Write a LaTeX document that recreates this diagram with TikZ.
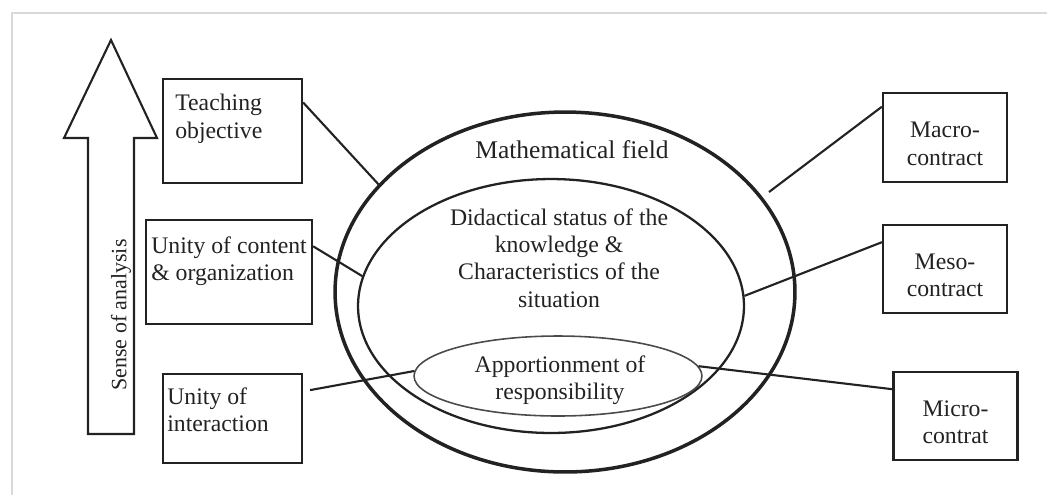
\documentclass[tikz,border=0pt]{standalone}
\usepackage{fontspec}
\setmainfont{Liberation Serif}
\usepackage{tikz}
\usetikzlibrary{shapes,positioning}
\definecolor{frame-gray}{HTML}{D9D9D9}
\definecolor{inner-gray}{HTML}{4A4A4A}
\definecolor{ink}{HTML}{222222}

\tikzset{
  lbox/.style={draw=ink, line width=1.3pt, inner sep=0pt},
  rbox/.style={draw=ink, line width=1.3pt, inner sep=0pt, align=center, text height=31.5pt, minimum width=2.48cm, minimum height=1.77cm},
  boxtext/.style={inner sep=0pt, align=left, anchor=north west},
  oval/.style={ellipse, draw=ink, inner sep=0pt},
  link/.style={draw=ink, line width=1.2pt},
}

\begin{document}
\begin{tikzpicture}[x=0.02cm, y=-0.02cm, font=\fontsize{13.5}{15.5}\selectfont, text=ink]
\useasboundingbox (0,0) rectangle (1047,495);
\draw [frame-gray, line width=1.2pt] (12,495) -- (12,13) -- (1047,13);

% sense of analysis
\draw [ink, line width=1.2pt] (88,434) -- (88,138) -- (64,138) -- (111,40) -- (157,138) -- (134,138) -- (134,434) -- cycle;
\node [rotate=90, font=\fontsize{12.5}{15}\selectfont] (sense) at (121,315) {Sense of analysis};

% ellipses
\node [oval, line width=2pt, minimum width=9.2cm, minimum height=7.2cm] (outer) at (565,292) {};
\node [oval, line width=1.3pt, minimum width=7.72cm, minimum height=5.08cm] (mid) at (551,306) {};
\node [oval, draw=inner-gray, line width=0.9pt, minimum width=5.76cm, minimum height=1.6cm] (inner) at (558,376) {};
\node [font=\fontsize{14.5}{16}\selectfont] (field) at (572,150) {Mathematical field};
\node [align=center] (status) at (559,258) {Didactical status of the\\knowledge \&\\Characteristics of the\\situation};
\node [align=center] (share) at (560,380) {Apportionment of\\responsibility};

% left boxes
\node [lbox, minimum width=2.78cm, minimum height=2.08cm] (tobj) at (232.5,131) {};
\node [boxtext] (tobjtxt) at (175,94) {Teaching\\objective};
\node [lbox, minimum width=3.32cm, minimum height=2.08cm] (ucont) at (229,272) {};
\node [boxtext] (uconttxt) at (151,236) {Unity of content\\\& organization};
\node [lbox, minimum width=2.78cm, minimum height=1.78cm] (uint) at (232.5,418.5) {};
\node [boxtext] (uinttxt) at (167,387) {Unity of\\interaction};

% right boxes
\node [rbox] (macro) at (945,137.5) {Macro-\\contract};
\node [rbox] (meso) at (945,269) {Meso-\\contract};
\node [rbox] (micro) at (955.5,416) {Micro-\\contrat};
\coordinate (macroend) at (769,192);

% connectors
\draw [link] (tobj.22) -- (outer.150);
\draw [link] (ucont.17) -- (mid.171);
\draw [link, shorten <=4pt] (uint.21) -- (inner.178);
\draw [link] (macro.154) -- (macroend);
\draw [link] (meso.157) -- (mid.3);
\draw [link] (micro.157) -- (inner.4);
\end{tikzpicture}
\end{document}
